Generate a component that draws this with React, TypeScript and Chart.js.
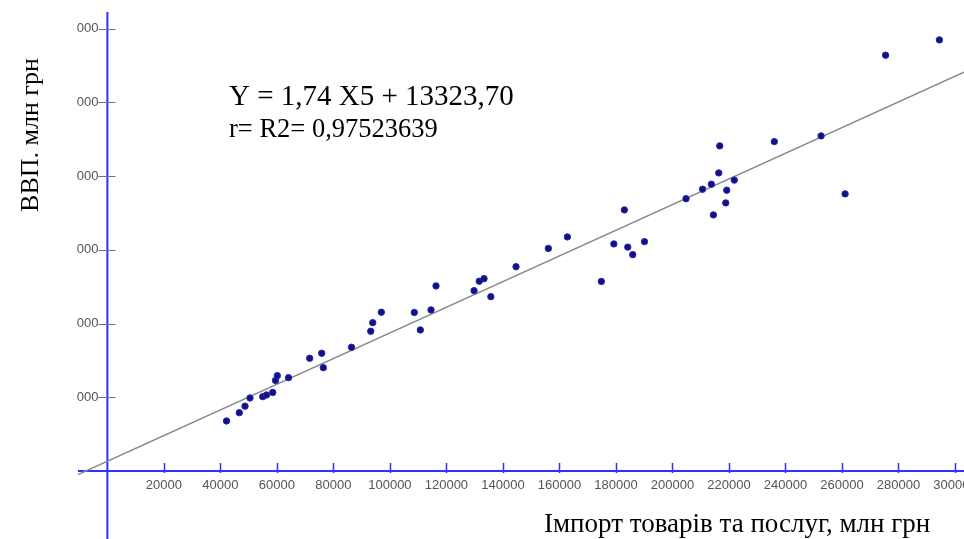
import React, { useEffect, useRef } from 'react';
import { Chart, registerables } from 'chart.js';

Chart.register(...registerables);

// Imports of goods and services, mln UAH (X5)
const importValues = [
  42160, 46690, 48710, 50480, 54980, 56320, 58520, 59510, 60150, 64110,
  71610, 75860, 76430, 86410, 93210, 93920, 96960, 108640, 110770, 114550,
  116320, 129780, 131620, 133320, 135720, 144640, 156080, 162810, 174840, 179270,
  182980, 184190, 185940, 190110, 204820, 210670, 213780, 214490, 216400, 216750,
  218880, 219230, 221890, 236070, 252610, 261110, 275450, 294490,
];

// GDP, mln UAH (Y)
const gdpValues = [
  67850, 79110, 87930, 99060, 100830, 103130, 106530, 122810, 129320, 126610,
  152930, 159720, 140180, 167860, 189570, 201240, 215360, 215090, 191340, 218480,
  251050, 244670, 257420, 260950, 236530, 277100, 301930, 317540, 257150, 308040,
  354180, 303700, 293520, 311160, 369380, 382270, 389050, 347390, 404390, 441030,
  363680, 380910, 394620, 446860, 454600, 375890, 564110, 584870,
];

const xTickValues = [
  20000, 40000, 60000, 80000, 100000, 120000, 140000, 160000,
  180000, 200000, 220000, 240000, 260000, 280000, 300000,
];
const xTickLabels = [
  '20000', '40000', '60000', '80000', '100000', '120000', '140000', '160000',
  '180000', '200000', '220000', '240000', '260000', '280000', '300000',
];
const yTickValues = [100000, 200000, 300000, 400000, 500000, 600000];
const yTickLabels = ['000', '000', '000', '000', '000', '000'];

const xRange = [-10400, 303200];
const yRange = [-92300, 622700];

const slope = 1.74;
const intercept = 13323.7;

const equationText = 'Y = 1,74 X5 + 13323,70';
const rText = 'r= R2= 0,97523639';
const xTitle = 'Імпорт товарів та послуг, млн грн';
const yTitle = 'ВВП. млн грн';

const SERIF = '"Liberation Serif", "Times New Roman", serif';
const AXIS_BLUE = '#2f2fff';

const axesPlugin = {
  id: 'crossAxes',
  beforeDatasetsDraw(chart: any) {
    const { ctx, chartArea, scales } = chart;
    const x = scales.x;
    const y = scales.y;
    const x0 = x.getPixelForValue(0);
    const y0 = y.getPixelForValue(0);
    ctx.save();
    // axis lines
    ctx.strokeStyle = AXIS_BLUE;
    ctx.lineWidth = 2;
    ctx.beginPath();
    ctx.moveTo(chartArea.left, y0);
    ctx.lineTo(chartArea.right, y0);
    ctx.moveTo(x0, chartArea.top);
    ctx.lineTo(x0, chartArea.bottom);
    ctx.stroke();
    // x tick marks
    ctx.lineWidth = 1.5;
    ctx.beginPath();
    xTickValues.forEach((v) => {
      const px = Math.round(x.getPixelForValue(v)) + 0.5;
      ctx.moveTo(px, y0 - 8);
      ctx.lineTo(px, y0 + 2);
    });
    ctx.stroke();
    // y tick marks
    ctx.strokeStyle = '#707070';
    ctx.lineWidth = 1;
    ctx.beginPath();
    yTickValues.forEach((v) => {
      const py = Math.round(y.getPixelForValue(v)) + 0.5;
      ctx.moveTo(x0 - 9, py);
      ctx.lineTo(x0 + 8, py);
    });
    ctx.stroke();
    // tick labels
    ctx.fillStyle = '#555555';
    ctx.font = '13px "Liberation Sans", Arial, sans-serif';
    ctx.textAlign = 'center';
    ctx.textBaseline = 'middle';
    xTickValues.forEach((v, i) => {
      ctx.fillText(xTickLabels[i], x.getPixelForValue(v), y0 + 14);
    });
    ctx.textAlign = 'right';
    yTickValues.forEach((v, i) => {
      ctx.fillText(yTickLabels[i], x0 - 9, y.getPixelForValue(v));
    });
    ctx.restore();
  },
  afterDraw(chart: any) {
    const { ctx } = chart;
    ctx.save();
    ctx.fillStyle = '#000000';
    ctx.textBaseline = 'alphabetic';
    ctx.textAlign = 'left';
    ctx.font = `29px ${SERIF}`;
    ctx.fillText(equationText, 229, 105);
    ctx.font = `26.5px ${SERIF}`;
    ctx.fillText(rText, 229, 137);
    ctx.font = `27px ${SERIF}`;
    ctx.fillText(xTitle, 544, 532);
    ctx.translate(38, 135);
    ctx.rotate(-Math.PI / 2);
    ctx.textAlign = 'center';
    ctx.font = `26px ${SERIF}`;
    ctx.fillText(yTitle, 0, 0);
    ctx.restore();
  },
};

export default function App() {
  const canvasRef = useRef<HTMLCanvasElement | null>(null);

  useEffect(() => {
    const canvas = canvasRef.current;
    if (!canvas) return;
    const points = importValues.map((v, i) => ({ x: v, y: gdpValues[i] }));
    const linePoints = xRange.map((v) => ({ x: v, y: slope * v + intercept }));
    const chart = new Chart(canvas, {
      type: 'scatter',
      data: {
        datasets: [
          {
            type: 'scatter',
            label: 'ВВП',
            data: points,
            backgroundColor: '#12127e',
            borderColor: '#2626b8',
            borderWidth: 1,
            pointRadius: 3.2,
            order: 0,
          },
          {
            type: 'line',
            label: 'Тренд',
            data: linePoints,
            borderColor: '#8a8a8a',
            borderWidth: 1.5,
            pointRadius: 0,
            fill: false,
            order: 1,
          } as any,
        ],
      },
      options: {
        animation: false,
        responsive: false,
        devicePixelRatio: 1,
        layout: { autoPadding: false, padding: { left: 78, top: 12, right: 0, bottom: 0 } },
        plugins: {
          legend: { display: false },
          tooltip: { enabled: false },
          title: { display: false },
        },
        scales: {
          x: { type: 'linear', min: xRange[0], max: xRange[1], display: false },
          y: { type: 'linear', min: yRange[0], max: yRange[1], display: false },
        },
      },
      plugins: [axesPlugin],
    });
    return () => {
      chart.destroy();
    };
  }, []);

  return (
    <div style={{ position: 'absolute', left: 0, top: 0, width: 964, height: 539, background: '#ffffff' }}>
      <canvas ref={canvasRef} width={964} height={539} style={{ display: 'block' }} />
    </div>
  );
}
